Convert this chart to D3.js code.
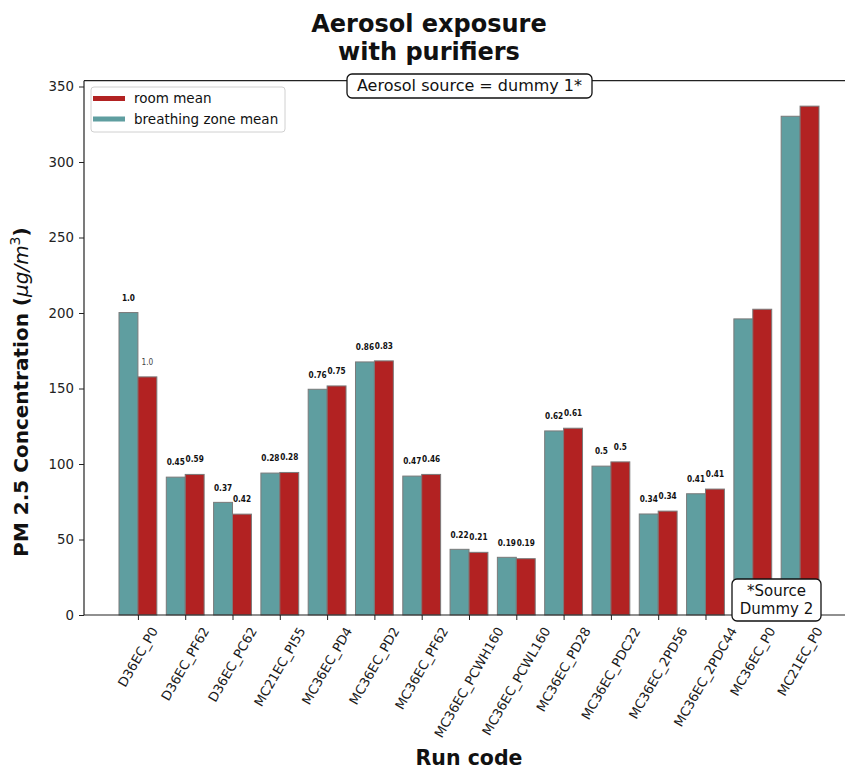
<!DOCTYPE html>
<html>
<head>
<meta charset="utf-8">
<script src="https://cdn.jsdelivr.net/npm/d3@7"></script>
<style>
  html, body { margin: 0; padding: 0; background: #fff; }
  svg { display: block; font-family: "DejaVu Sans", sans-serif; }
</style>
</head>
<body>
<svg id="chart" width="845" height="771"></svg>
<script>
// Run codes along the x axis
const runCodes = [
  "D36EC_P0", "D36EC_PF62", "D36EC_PC62", "MC21EC_PI55", "MC36EC_PD4",
  "MC36EC_PD2", "MC36EC_PF62", "MC36EC_PCWH160", "MC36EC_PCWL160", "MC36EC_PD28",
  "MC36EC_PDC22", "MC36EC_2PD56", "MC36EC_2PDC44", "MC36EC_P0", "MC21EC_P0"
];

// PM 2.5 concentration (µg/m³)
const breathingZoneMean = [200.3, 91.3, 74.6, 94.0, 149.5, 167.6, 92.0, 43.5, 38.2, 121.9, 98.6, 66.9, 80.3, 196.1, 330.3];
const roomMean          = [157.7, 93.1, 66.8, 94.4, 151.7, 168.3, 93.1, 41.5, 37.3, 123.7, 101.4, 68.8, 83.4, 202.5, 337.0];

// Relative exposure annotations printed above each bar (empty = no label)
const breathingZoneRatio = ["1.0", "0.45", "0.37", "0.28", "0.76", "0.86", "0.47", "0.22", "0.19", "0.62", "0.5", "0.34", "0.41", "", ""];
const roomRatio          = ["1.0", "0.59", "0.42", "0.28", "0.75", "0.83", "0.46", "0.21", "0.19", "0.61", "0.5", "0.34", "0.41", "", ""];

const yTicks = [0, 50, 100, 150, 200, 250, 300, 350];

const TEAL = "#5f9ea0";
const RED = "#b22222";

const svg = d3.select("#chart");

const plot = { left: 84, right: 854, top: 80.7, bottom: 615 };
const barW = 0.4;

const x = d3.scaleLinear()
  .domain([-barW - 0.74, runCodes.length - 1 + barW + 0.74])
  .range([plot.left, plot.right]);
const y = d3.scaleLinear()
  .domain([0, d3.max(roomMean.concat(breathingZoneMean)) * 1.05])
  .range([plot.bottom, plot.top]);

// Bars
const g = svg.append("g");
runCodes.forEach((code, i) => {
  g.append("rect")
    .attr("x", x(i - barW)).attr("width", x(i) - x(i - barW))
    .attr("y", y(breathingZoneMean[i])).attr("height", y(0) - y(breathingZoneMean[i]))
    .attr("fill", TEAL).attr("stroke", "#7a7a7a").attr("stroke-width", 1);
  g.append("rect")
    .attr("x", x(i)).attr("width", x(i + barW) - x(i))
    .attr("y", y(roomMean[i])).attr("height", y(0) - y(roomMean[i]))
    .attr("fill", RED).attr("stroke", "#7a7a7a").attr("stroke-width", 1);
});

// Ratio annotations (narrow, tall bold digits)
function ratioLabel(cx, cy, txt, bold, color) {
  svg.append("text")
    .attr("transform", `translate(${cx},${cy}) scale(0.82,1)`)
    .attr("text-anchor", "middle").attr("dominant-baseline", "central")
    .attr("font-size", 9).attr("font-weight", bold ? "bold" : "normal").attr("fill", color)
    .text(txt);
}
runCodes.forEach((code, i) => {
  if (breathingZoneRatio[i]) {
    ratioLabel(x(i - barW / 2), y(breathingZoneMean[i]) - 15, breathingZoneRatio[i], true, "#111");
  }
  if (roomRatio[i]) {
    ratioLabel(x(i + barW / 2), y(roomMean[i]) - 15.5, roomRatio[i], i !== 0, i === 0 ? "#444" : "#111");
  }
});

// Spines
svg.append("line").attr("x1", plot.left).attr("x2", plot.left)
  .attr("y1", plot.top).attr("y2", plot.bottom).attr("stroke", "#222").attr("stroke-width", 1.2);
svg.append("line").attr("x1", plot.left).attr("x2", plot.right)
  .attr("y1", plot.bottom).attr("y2", plot.bottom).attr("stroke", "#222").attr("stroke-width", 1.2);
svg.append("line").attr("x1", plot.left).attr("x2", plot.right)
  .attr("y1", plot.top).attr("y2", plot.top).attr("stroke", "#222").attr("stroke-width", 1.2);

// Y axis
const yAxis = d3.axisLeft(y).tickValues(yTicks).tickSize(5).tickPadding(5).tickFormat(d3.format("d"));
const yg = svg.append("g").attr("transform", `translate(${plot.left},0)`).call(yAxis);
yg.select(".domain").remove();
yg.selectAll(".tick line").attr("stroke", "#222").attr("stroke-width", 1);
yg.selectAll(".tick text").attr("font-size", 13.3).attr("fill", "#222")
  .attr("font-family", "DejaVu Sans, sans-serif");

// X axis ticks
const xAxis = d3.axisBottom(x).tickValues(d3.range(runCodes.length)).tickSize(5).tickFormat("");
const xg = svg.append("g").attr("transform", `translate(0,${plot.bottom})`).call(xAxis);
xg.select(".domain").remove();
xg.selectAll(".tick line").attr("stroke", "#222").attr("stroke-width", 1);

// Rotated tick labels, centred under each tick
const deg = 60;
const angle = deg * Math.PI / 180;
const labelTop = plot.bottom + 10;
const fs = 13;
runCodes.forEach((code, i) => {
  const t = svg.append("text")
    .attr("text-anchor", "middle").attr("dominant-baseline", "central")
    .attr("font-size", fs).attr("fill", "#1a1a1a")
    .text(code);
  const L = t.node().getComputedTextLength();
  const h = fs * 1.0;
  const H = L * Math.sin(angle) + h * Math.cos(angle);
  t.attr("transform", `translate(${x(i)},${labelTop + H / 2}) rotate(${-deg})`);
});

// Axis titles
svg.append("text")
  .attr("x", (plot.left + plot.right) / 2).attr("y", 765)
  .attr("text-anchor", "middle").attr("font-size", 20.5).attr("font-weight", "bold")
  .attr("fill", "#111").text("Run code");

const yl = svg.append("text")
  .attr("transform", "translate(28,392) rotate(-90)")
  .attr("text-anchor", "middle").attr("font-size", 20).attr("font-weight", "bold").attr("fill", "#111");
yl.append("tspan").text("PM 2.5 Concentration (");
yl.append("tspan").attr("font-style", "italic").attr("font-weight", "normal").text("μg/m");
yl.append("tspan").attr("font-size", 14).attr("dy", -8).attr("font-weight", "normal").text("3");
yl.append("tspan").attr("dy", 8).text(")");

// Title
svg.append("text").attr("x", 429).attr("y", 32)
  .attr("text-anchor", "middle").attr("font-size", 24).attr("font-weight", "bold")
  .attr("fill", "#111").text("Aerosol exposure");
svg.append("text").attr("x", 429).attr("y", 60)
  .attr("text-anchor", "middle").attr("font-size", 24).attr("font-weight", "bold")
  .attr("fill", "#111").text("with purifiers");

// Source annotation boxes
svg.append("rect").attr("x", 347).attr("y", 74).attr("width", 245).attr("height", 24)
  .attr("rx", 5).attr("fill", "#fff").attr("stroke", "#111").attr("stroke-width", 1.3);
svg.append("text").attr("x", 469.5).attr("y", 91)
  .attr("text-anchor", "middle").attr("font-size", 16).attr("fill", "#111")
  .text("Aerosol source = dummy 1*");

svg.append("rect").attr("x", 732).attr("y", 579).attr("width", 89).attr("height", 42)
  .attr("rx", 5).attr("fill", "#fff").attr("stroke", "#111").attr("stroke-width", 1.3);
svg.append("text").attr("x", 776.5).attr("y", 596)
  .attr("text-anchor", "middle").attr("font-size", 15).attr("fill", "#111").text("*Source");
svg.append("text").attr("x", 776.5).attr("y", 614)
  .attr("text-anchor", "middle").attr("font-size", 15).attr("fill", "#111").text("Dummy 2");

// Legend
const legend = svg.append("g");
legend.append("rect").attr("x", 91).attr("y", 87).attr("width", 194).attr("height", 45)
  .attr("rx", 3).attr("fill", "#fff").attr("fill-opacity", 0.8)
  .attr("stroke", "#d0d0d0").attr("stroke-width", 1);
const items = [{ label: "room mean", color: RED }, { label: "breathing zone mean", color: TEAL }];
items.forEach((d, k) => {
  const cy = 98.5 + k * 20.5;
  legend.append("rect").attr("x", 93).attr("y", cy - 2.5).attr("width", 32).attr("height", 5)
    .attr("fill", d.color);
  legend.append("text").attr("x", 134).attr("y", cy + 4.8)
    .attr("font-size", 13.5).attr("fill", "#111").text(d.label);
});
</script>
</body>
</html>
